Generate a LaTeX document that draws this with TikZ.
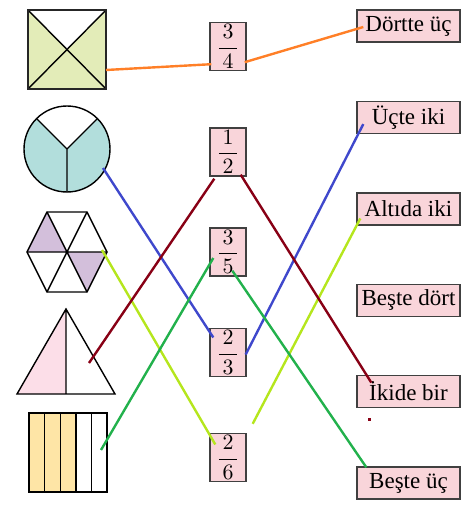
\documentclass[tikz,border=0pt]{standalone}
\usepackage[no-math]{fontspec}
\setmainfont{Liberation Serif}
\usepackage{amsmath}
\usetikzlibrary{positioning, calc}

\definecolor{lineorange}{HTML}{FF7F27}
\definecolor{lineblue}{HTML}{3F48CC}
\definecolor{linelime}{HTML}{B5E61D}
\definecolor{linered}{HTML}{880015}
\definecolor{linegreen}{HTML}{22B14C}
\definecolor{boxpink}{HTML}{F9D5DA}
\definecolor{sqfill}{HTML}{E3ECB8}
\definecolor{circfill}{HTML}{B2DEDC}
\definecolor{hexfill}{HTML}{D3BFDB}
\definecolor{trifill}{HTML}{FCDEE8}
\definecolor{barfill}{HTML}{FEE5A6}

\begin{document}
\begin{tikzpicture}[x=0.5pt, y=-0.5pt,
    fracbox/.style={draw=black!75, fill=boxpink, line width=0.7pt, minimum width=18pt, minimum height=24pt, inner sep=0pt, font=\fontsize{10.5}{12}\selectfont},
    wordbox/.style={draw=black!75, fill=boxpink, line width=0.7pt, minimum width=51.5pt, minimum height=16pt, inner sep=0pt, font=\fontsize{11.5}{14}\selectfont},
    outline/.style={line width=0.7pt},
    link/.style={line width=1.2pt}]
    \useasboundingbox (0,0) rectangle (468,520);

    % left column
    \fill[sqfill] (28,10) rectangle (106,89);
    \fill[white] (28,10) -- (106,10) -- (67,49.5) -- cycle;
    \draw[outline] (28,10) -- (106,89) (106,10) -- (28,89);
    \draw[line width=1pt, black!85] (28,10) rectangle (106,89);
    \coordinate (sq) at (106,70);

    \fill[circfill] (67,149) circle (43);
    \fill[white] (67,149) -- +(-45:43) arc[start angle=-45, end angle=-135, radius=43] -- cycle;
    \draw[outline] (67,149) circle (43);
    \draw[outline] (67,149) -- +(-45:43) (67,149) -- +(-135:43) (67,149) -- +(90:43);
    \coordinate (circ) at (103,168);

    \fill[hexfill] (67,252) -- (27,252) -- (47,212) -- cycle;
    \fill[hexfill] (67,252) -- (107,252) -- (87,292) -- cycle;
    \draw[outline] (27,252) -- (47,212) -- (87,212) -- (107,252) -- (87,292) -- (47,292) -- cycle;
    \draw[outline] (27,252) -- (107,252) (47,212) -- (87,292) (87,212) -- (47,292);
    \coordinate (hex) at (102,250);

    \fill[trifill] (66,309) -- (17,394) -- (66,394) -- cycle;
    \draw[outline] (66,309) -- (17,394) -- (115,394) -- cycle (66,309) -- (66,394);
    \coordinate (tri) at (89,363);

    \fill[barfill] (29,413) rectangle (75.8,492);
    \foreach \i in {1,...,4}
        \draw[outline] ({29+15.6*\i},413) -- ({29+15.6*\i},492);
    \draw[outline] (29,413) rectangle (107,492);
    \coordinate (bars) at (101,450);

    % fractions
    \node (f34) [fracbox] at (228,46.5) {$\dfrac{\,3\,}{\,4\,}$};
    \node (f12) [fracbox] at (228,152) {$\dfrac{\,1\,}{\,2\,}$};
    \node (f35) [fracbox] at (228,252) {$\dfrac{\,3\,}{\,5\,}$};
    \node (f23) [fracbox] at (228,352.5) {$\dfrac{\,2\,}{\,3\,}$};
    \node (f26) [fracbox] at (228,457.5) {$\dfrac{\,2\,}{\,6\,}$};

    % words
    \node (w1) [wordbox] at (408.5,26) {Dörtte üç};
    \node (w2) [wordbox, below=29pt of w1] {Üçte iki};
    \node (w3) [wordbox, below=29pt of w2] {Altıda iki};
    \node (w4) [wordbox, below=29pt of w3] {Beşte dört};
    \node (w5) [wordbox, below=29pt of w4] {İkide bir};
    \node (w6) [wordbox, below=29pt of w5] {Beşte üç};

    \path[link]
    (sq) edge[lineorange] ($(f34.south west)+(2,-7)$)
    ($(f34.south east)+(-2,-9)$) edge[lineorange] ($(w1.west)+(7,1)$)
    (circ) edge[lineblue] ($(f23.west)+(4,-15)$)
    ($(f23.east)+(-1,2)$) edge[lineblue] ($(w2.south west)+(7,-10)$)
    (hex) edge[linelime] ($(f26.west)+(6,-13)$)
    ($(f26.north east)+(6,-9)$) edge[linelime] ($(w3.south west)+(4,-7)$)
    (tri) edge[linered] ($(f12.south west)+(5,2)$)
    ($(f12.south east)+(-6,-2)$) edge[linered] ($(w5.west)+(15,-9)$)
    (bars) edge[linegreen] ($(f35.west)+(4,6)$)
    ($(f35.south west)+(23,-6)$) edge[linegreen] ($(w6.north west)+(10,1)$);
    \fill[linered] (368,418) rectangle +(3,3);
\end{tikzpicture}
\end{document}
